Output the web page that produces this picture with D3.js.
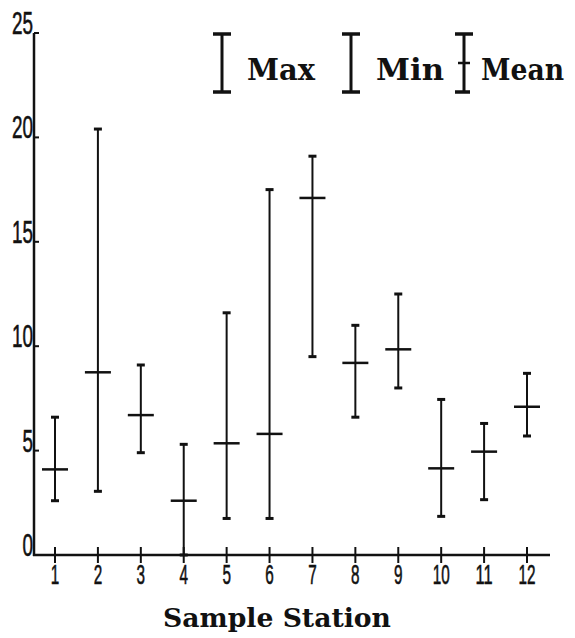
<!DOCTYPE html>
<html>
<head>
<meta charset="utf-8">
<script src="https://cdn.jsdelivr.net/npm/d3@7"></script>
<style>
  body { margin: 0; background: #fff; }
  svg { display: block; }
</style>
</head>
<body>
<svg id="chart" width="575" height="638"></svg>
<script>
// values
var stations = [1, 2, 3, 4, 5, 6, 7, 8, 9, 10, 11, 12];
var maxVals  = [6.6, 20.4, 9.1, 5.3, 11.6, 17.5, 19.1, 11.0, 12.5, 7.45, 6.3, 8.7];
var meanVals = [4.1, 8.75, 6.7, 2.6, 5.35, 5.8, 17.1, 9.2, 9.85, 4.15, 4.95, 7.1];
var minVals  = [2.6, 3.05, 4.9, 0, 1.75, 1.75, 9.5, 6.6, 8.0, 1.85, 2.65, 5.7];
var yTicks = [0, 5, 10, 15, 20, 25];
var legendLabels = ["Max", "Min", "Mean"];

var svg = d3.select("#chart");
var x = d3.scaleLinear().domain([1, 12]).range([55, 527]);
var y = d3.scaleLinear().domain([0, 25]).range([555, 33]);

var data = stations.map(function(s, i) {
    return { s: s, max: maxVals[i], mean: meanVals[i], min: minVals[i] };
});

// y axis
svg.append("line")
    .attr("x1", 34).attr("x2", 34)
    .attr("y1", y(25)).attr("y2", y(0) + 1)
    .style("stroke", "#111").style("stroke-width", 2.5);

svg.selectAll("line.ytick")
    .data(yTicks)
    .enter().append("line")
    .attr("class", "ytick")
    .attr("x1", 34).attr("x2", 39)
    .attr("y1", function(d) { return y(d); })
    .attr("y2", function(d) { return y(d); })
    .style("stroke", "#111").style("stroke-width", 2);

svg.selectAll("text.ylab")
    .data(yTicks)
    .enter().append("text")
    .attr("class", "ylab")
    .attr("x", 33)
    .attr("y", function(d) { return y(d) + 1; })
    .attr("text-anchor", "end")
    .attr("textLength", function(d) { return String(d).length * 10.5; })
    .attr("lengthAdjust", "spacingAndGlyphs")
    .style("font-family", "Liberation Sans, sans-serif")
    .style("font-size", "31px")
    .style("fill", "#111")
    .style("stroke", "#111").style("stroke-width", 0.6)
    .text(function(d) { return d; });

// x axis
svg.append("line")
    .attr("x1", 33).attr("x2", 550)
    .attr("y1", y(0)).attr("y2", y(0))
    .style("stroke", "#111").style("stroke-width", 2.5);

svg.selectAll("line.xtick")
    .data(stations)
    .enter().append("line")
    .attr("class", "xtick")
    .attr("x1", function(d) { return x(d); })
    .attr("x2", function(d) { return x(d); })
    .attr("y1", y(0) - 8).attr("y2", y(0) + 8)
    .style("stroke", "#111").style("stroke-width", 2);

svg.selectAll("text.xlab")
    .data(stations)
    .enter().append("text")
    .attr("class", "xlab")
    .attr("x", function(d) { return x(d); })
    .attr("y", 584)
    .attr("text-anchor", "middle")
    .attr("textLength", function(d) { return String(d).length * 8.5; })
    .attr("lengthAdjust", "spacingAndGlyphs")
    .style("font-family", "Liberation Sans, sans-serif")
    .style("font-size", "28px")
    .style("fill", "#111")
    .style("stroke", "#111").style("stroke-width", 0.6)
    .text(function(d) { return d; });

svg.append("text")
    .attr("x", 163).attr("y", 627)
    .attr("textLength", 228)
    .attr("lengthAdjust", "spacingAndGlyphs")
    .style("font-family", "DejaVu Serif, serif")
    .style("font-weight", "bold")
    .style("font-size", "26px")
    .style("fill", "#111")
    .text("Sample  Station");

// error bars
var bars = svg.selectAll("g.bar")
    .data(data)
    .enter().append("g")
    .attr("class", "bar");

bars.append("line")
    .attr("x1", function(d) { return x(d.s); })
    .attr("x2", function(d) { return x(d.s); })
    .attr("y1", function(d) { return y(d.max); })
    .attr("y2", function(d) { return y(d.min); })
    .style("stroke", "#111").style("stroke-width", 2);

bars.append("line")
    .attr("x1", function(d) { return x(d.s) - 4; })
    .attr("x2", function(d) { return x(d.s) + 4; })
    .attr("y1", function(d) { return y(d.max); })
    .attr("y2", function(d) { return y(d.max); })
    .style("stroke", "#111").style("stroke-width", 3);

bars.append("line")
    .attr("x1", function(d) { return x(d.s) - 4; })
    .attr("x2", function(d) { return x(d.s) + 4; })
    .attr("y1", function(d) { return y(d.min); })
    .attr("y2", function(d) { return y(d.min); })
    .style("stroke", "#111").style("stroke-width", 3);

bars.append("line")
    .attr("x1", function(d) { return x(d.s) - 13; })
    .attr("x2", function(d) { return x(d.s) + 13; })
    .attr("y1", function(d) { return y(d.mean); })
    .attr("y2", function(d) { return y(d.mean); })
    .style("stroke", "#111").style("stroke-width", 2.5);

// legend
var legX = [222, 351, 464];
var legTextX = [247, 376, 481];
var legW = [68, 68, 83];
var leg = svg.selectAll("g.leg")
    .data(legendLabels)
    .enter().append("g")
    .attr("class", "leg");

leg.append("line")
    .attr("x1", function(d, i) { return legX[i]; })
    .attr("x2", function(d, i) { return legX[i]; })
    .attr("y1", 33).attr("y2", 93)
    .style("stroke", "#111").style("stroke-width", 3);
leg.append("line")
    .attr("x1", function(d, i) { return legX[i] - 9; })
    .attr("x2", function(d, i) { return legX[i] + 9; })
    .attr("y1", 34).attr("y2", 34)
    .style("stroke", "#111").style("stroke-width", 3.5);
leg.append("line")
    .attr("x1", function(d, i) { return legX[i] - 9; })
    .attr("x2", function(d, i) { return legX[i] + (d === "Mean" ? 6 : 9); })
    .attr("y1", 92).attr("y2", 92)
    .style("stroke", "#111").style("stroke-width", 3.5);
leg.filter(function(d) { return d === "Mean"; })
    .append("line")
    .attr("x1", legX[2] - 6)
    .attr("x2", legX[2] + 6)
    .attr("y1", 63).attr("y2", 63)
    .style("stroke", "#111").style("stroke-width", 2.5);

leg.append("text")
    .attr("x", function(d, i) { return legTextX[i]; })
    .attr("y", 80)
    .attr("textLength", function(d, i) { return legW[i]; })
    .attr("lengthAdjust", "spacingAndGlyphs")
    .style("font-family", "DejaVu Serif, serif")
    .style("font-weight", "bold")
    .style("font-size", "30px")
    .style("fill", "#111")
    .text(function(d) { return d; });
</script>
</body>
</html>
